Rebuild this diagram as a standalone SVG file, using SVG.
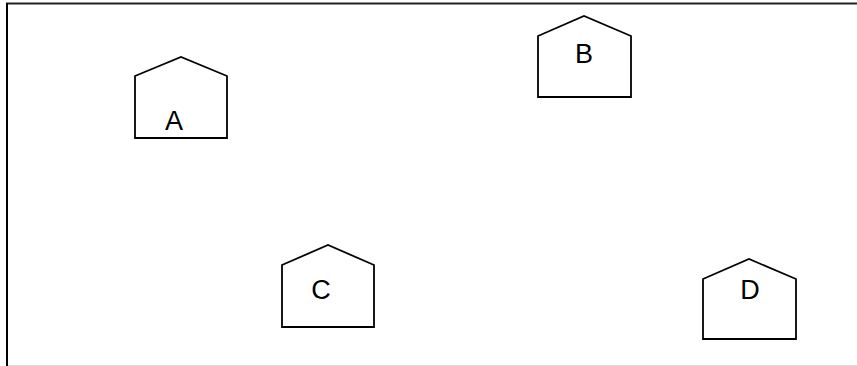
<svg xmlns="http://www.w3.org/2000/svg" width="857" height="366" viewBox="0 0 857 366">
<style>
.house{fill:#fff;stroke:#000;stroke-width:1.8;stroke-linejoin:miter}
.lbl{font-family:"Liberation Sans",Arial,sans-serif;font-size:27px;fill:#000;text-anchor:middle}
</style>
<rect width="857" height="366" fill="#fff"/>
<g id="frame">
<line x1="6" y1="3.5" x2="857" y2="3.5" stroke="#222" stroke-width="2"/>
<line x1="7" y1="3" x2="7" y2="366" stroke="#000" stroke-width="2"/>
<line x1="8" y1="365.5" x2="857" y2="365.5" stroke="#ddd" stroke-width="1"/>
</g>
<g id="connectors"></g>
<g id="A">
<path class="house" d="M135 138 V76 L181 57 L227 76 V138 Z"/>
<text class="lbl" x="174" y="130">A</text>
</g>
<g id="B">
<path class="house" d="M538 97 V36 L584 16 L631 36 V97 Z"/>
<text class="lbl" x="584" y="63">B</text>
</g>
<g id="C">
<path class="house" d="M282 327 V265 L328 245 L374 265 V327 Z"/>
<text class="lbl" x="321" y="299">C</text>
</g>
<g id="D">
<path class="house" d="M703 339 V279 L749 259 L796 279 V339 Z"/>
<text class="lbl" x="750" y="299">D</text>
</g>
</svg>
